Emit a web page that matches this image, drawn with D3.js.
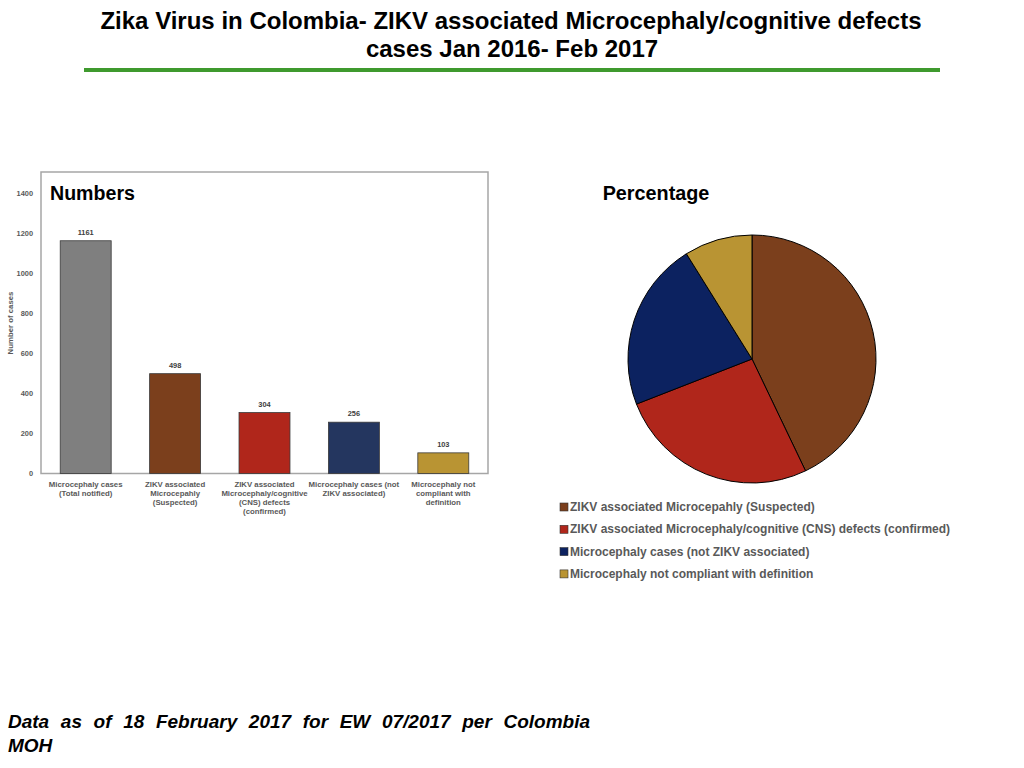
<!DOCTYPE html>
<html>
<head>
<meta charset="utf-8">
<script src="https://cdn.jsdelivr.net/npm/d3@7"></script>
<style>
  body { margin: 0; background: #fff; }
  svg { display: block; font-family: "Liberation Sans", Arial, sans-serif; }
</style>
</head>
<body>
<svg id="chart" width="1024" height="768"></svg>
<script>
// data
var categories = [
  ['Microcephaly cases', '(Total notified)'],
  ['ZIKV associated', 'Microcepahly', '(Suspected)'],
  ['ZIKV associated', 'Microcephaly/cognitive', '(CNS) defects', '(confirmed)'],
  ['Microcephaly cases (not', 'ZIKV associated)'],
  ['Microcephaly not', 'compliant with', 'definition']
];
var counts = [1161, 498, 304, 256, 103];
var barColors = ['#7f7f7f', '#7b3f1c', '#b0261b', '#24365f', '#b99433'];
var yTicks = [0, 200, 400, 600, 800, 1000, 1200, 1400];

var pieLabels = [
  'ZIKV associated Microcepahly (Suspected)',
  'ZIKV associated Microcephaly/cognitive (CNS) defects (confirmed)',
  'Microcephaly cases (not ZIKV associated)',
  'Microcephaly not compliant with definition'
];
var pieValues = [498, 304, 256, 103];
var pieColors = ['#7b3f1c', '#b0261b', '#0c2260', '#b99433'];

var svg = d3.select('#chart');

// title
var title = svg.append('g').attr('font-weight', 'bold').attr('fill', '#000')
  .attr('font-size', 24).attr('text-anchor', 'middle');
title.append('text').attr('x', 511).attr('y', 29)
  .text('Zika Virus in Colombia- ZIKV associated Microcephaly/cognitive defects');
title.append('text').attr('x', 512).attr('y', 57)
  .text('cases Jan 2016- Feb 2017');
svg.append('rect').attr('x', 84).attr('y', 68).attr('width', 856).attr('height', 4)
  .attr('fill', '#3f9a2e');

// bar chart
var plotL = 41, plotR = 488, plotT = 172, plotB = 473.5;
var x = d3.scaleBand().domain(d3.range(counts.length)).range([plotL, plotR])
  .paddingInner(0.43).paddingOuter(0.215);
var y = d3.scaleLinear().domain([0, 1504]).range([plotB, plotT]);

svg.append('rect').attr('x', plotL).attr('y', plotT)
  .attr('width', plotR - plotL).attr('height', plotB - plotT)
  .attr('fill', 'none').attr('stroke', '#a6a6a6').attr('stroke-width', 1.5);

var yAxis = svg.append('g').attr('transform', 'translate(' + plotL + ',0)')
  .call(d3.axisLeft(y).tickValues(yTicks).tickFormat(d3.format('d')).tickSize(0).tickPadding(8));
yAxis.select('.domain').remove();
yAxis.selectAll('text').attr('font-size', 7.4).attr('fill', '#595959')
  .attr('font-family', '"Liberation Sans", Arial, sans-serif').attr('font-weight', 'bold');

svg.append('text').attr('transform', 'translate(13,323) rotate(-90)')
  .attr('text-anchor', 'middle').attr('font-size', 7.8).attr('font-weight', 'bold')
  .attr('fill', '#595959').text('Number of cases');

svg.selectAll('rect.bar').data(counts).enter().append('rect')
  .attr('class', 'bar')
  .attr('x', function(d, i) { return x(i); })
  .attr('y', function(d) { return y(d); })
  .attr('width', x.bandwidth())
  .attr('height', function(d) { return plotB - y(d); })
  .attr('fill', function(d, i) { return barColors[i]; })
  .attr('stroke', '#3a3a3a').attr('stroke-width', 0.8);

svg.selectAll('text.val').data(counts).enter().append('text')
  .attr('class', 'val')
  .attr('x', function(d, i) { return x(i) + x.bandwidth() / 2; })
  .attr('y', function(d) { return y(d) - 6; })
  .attr('text-anchor', 'middle').attr('font-size', 7.4).attr('font-weight', 'bold')
  .attr('fill', '#404040')
  .text(function(d) { return d; });

var xl = svg.selectAll('text.cat').data(categories).enter().append('text')
  .attr('class', 'cat')
  .attr('text-anchor', 'middle').attr('font-size', 7.8).attr('font-weight', 'bold')
  .attr('fill', '#595959');
xl.each(function(lines, i) {
  d3.select(this).selectAll('tspan').data(lines).enter().append('tspan')
    .attr('x', x(i) + x.bandwidth() / 2)
    .attr('y', function(d, j) { return 487 + j * 9.1; })
    .text(function(d) { return d; });
});

svg.append('text').attr('x', 50).attr('y', 200).attr('font-size', 19.6)
  .attr('font-weight', 'bold').text('Numbers');

// pie
svg.append('text').attr('x', 656).attr('y', 200).attr('font-size', 19.8)
  .attr('font-weight', 'bold').attr('text-anchor', 'middle').text('Percentage');

var pie = d3.pie().sort(null).value(function(d) { return d; });
var arc = d3.arc().innerRadius(0).outerRadius(124);
svg.append('g').attr('transform', 'translate(752,359)')
  .selectAll('path').data(pie(pieValues)).enter().append('path')
  .attr('d', arc)
  .attr('fill', function(d, i) { return pieColors[i]; })
  .attr('stroke', '#000').attr('stroke-width', 1);

var legend = svg.append('g').selectAll('g').data(pieLabels).enter().append('g')
  .attr('transform', function(d, i) { return 'translate(560,' + (507 + i * 22.3) + ')'; });
legend.append('rect').attr('x', 0).attr('y', -4).attr('width', 8).attr('height', 8)
  .attr('fill', function(d, i) { return pieColors[i]; })
  .attr('stroke', '#333').attr('stroke-width', 0.6);
legend.append('text').attr('x', 10).attr('y', 4).attr('font-size', 12)
  .attr('font-weight', 'bold').attr('fill', '#595959')
  .text(function(d) { return d; });

// footer
var foot1 = svg.append('text').attr('x', 8).attr('y', 728).attr('font-size', 19)
  .attr('font-weight', 'bold').attr('font-style', 'italic')
  .text('Data as of 18 February 2017 for EW 07/2017 per Colombia');
var w = foot1.node().getComputedTextLength();
var gaps = foot1.text().split(' ').length - 1;
foot1.attr('word-spacing', (590 - 8 - w) / gaps);
svg.append('text').attr('x', 8).attr('y', 752).attr('font-size', 19)
  .attr('font-weight', 'bold').attr('font-style', 'italic').text('MOH');
</script>
</body>
</html>
